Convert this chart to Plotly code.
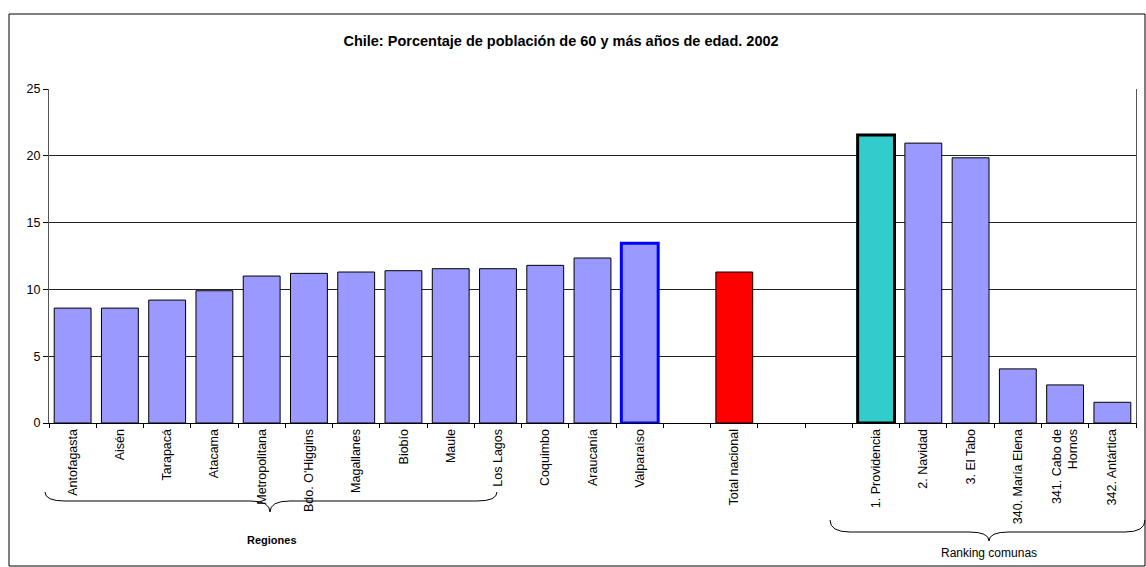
import plotly.graph_objects as go

# ---- data ----
categories = ["Antofagasta", "Aisén", "Tarapacá", "Atacama", "Metropolitana",
              "Bdo. O'Higgins", "Magallanes", "Biobío", "Maule", "Los Lagos",
              "Coquimbo", "Araucanía", "Valparaíso", " ", "Total nacional",
              "  ", "   ", "1. Providencia", "2. Navidad", "3. El Tabo",
              "340. María Elena", "341. Cabo de<br>Hornos", "342. Antártica"]
values = [8.6, 8.6, 9.2, 9.9, 11.0, 11.2, 11.3, 11.4, 11.55, 11.55, 11.8, 12.35, 13.45,
          None, 11.3, None, None, 21.55, 20.95, 19.85, 4.05, 2.85, 1.55]
y_ticks = [0, 5, 10, 15, 20, 25]

# ---- styles ----
fill_colors = ["#9999FF"] * 13 + ["#9999FF", "#FF0000", "#9999FF", "#9999FF",
               "#33CCCC"] + ["#9999FF"] * 5
line_colors = ["#000000"] * 12 + ["#0000FF"] + ["#000000"] * 10
line_widths = [1] * 12 + [3] + [1] * 4 + [3] + [1] * 5

FONT = "Arial, 'Liberation Sans', sans-serif"

fig = go.Figure(go.Bar(
    x=categories, y=values,
    marker=dict(color=fill_colors, line=dict(color=line_colors, width=line_widths)),
    hoverinfo="x+y",
))

# plot area in pixels
L, R, T, B = 49, 1136, 89, 423
W, H = 1146, 567


def px(x, y):
    return (x - L) / (R - L), (B - y) / (B - T)


def brace(x0, x1, xm, yend, yline, ytip, r=18):
    def p(x, y):
        a, b = px(x, y)
        return f"{a:.5f},{b:.5f}"
    return (f"M {p(x0, yend)} Q {p(x0, yline)} {p(x0 + r, yline)} "
            f"L {p(xm - r, yline)} Q {p(xm, yline)} {p(xm, ytip)} "
            f"Q {p(xm, yline)} {p(xm + r, yline)} "
            f"L {p(x1 - r, yline)} Q {p(x1, yline)} {p(x1, yend)}")


shapes = []
# outer border
bx0, by0 = px(9, 14)
bx1, by1 = px(1145, 566)
shapes.append(dict(type="rect", xref="paper", yref="paper", x0=bx0, y0=by0, x1=bx1, y1=by1,
                   line=dict(color="#000000", width=1), fillcolor="rgba(0,0,0,0)", layer="below"))
shapes.append(dict(type="path", xref="paper", yref="paper",
                   path=brace(45, 497, 270, 492, 501, 512, r=20),
                   line=dict(color="#000000", width=1)))
shapes.append(dict(type="path", xref="paper", yref="paper",
                   path=brace(830, 1145, 989, 520, 532, 541, r=20),
                   line=dict(color="#000000", width=1)))

annotations = []
ax, ay = px(272, 540)
annotations.append(dict(x=ax, y=ay, xref="paper", yref="paper", text="<b>Regiones</b>",
                        xanchor="center", yanchor="middle",
                        showarrow=False, font=dict(family=FONT, size=11, color="#000000")))
ax, ay = px(989, 553)
annotations.append(dict(x=ax, y=ay, xref="paper", yref="paper", text="Ranking comunas",
                        xanchor="center", yanchor="middle",
                        showarrow=False, font=dict(family=FONT, size=12, color="#000000")))

fig.update_layout(
    width=W, height=H,
    margin=dict(l=L, r=W - R, t=T, b=H - B),
    paper_bgcolor="white", plot_bgcolor="white",
    bargap=0.22,
    showlegend=False,
    title=dict(text="<b>Chile: Porcentaje de población de 60 y más años de edad. 2002</b>",
               x=561 / W, xanchor="center", y=1 - 41 / H, yanchor="middle",
               font=dict(family=FONT, size=14.5, color="#000000")),
    font=dict(family=FONT, size=12.5, color="#000000"),
    shapes=shapes,
    annotations=annotations,
    xaxis=dict(type="category", tickangle=-90, tickson="boundaries", ticks="outside",
               ticklen=4, tickcolor="#000000", showline=True, linecolor="#000000",
               linewidth=1, showgrid=False, tickfont=dict(family=FONT, size=12.5, color="#000000"),
               fixedrange=True),
    yaxis=dict(range=[0, 25], tickvals=y_ticks, ticks="outside", ticklen=5,
               tickcolor="#000000", showline=True, linecolor="#555555", mirror=True,
               showgrid=True, gridcolor="#222222", gridwidth=1, zeroline=False,
               tickfont=dict(family=FONT, size=12.5, color="#000000"), fixedrange=True),
)

fig.write_html("out.html")
